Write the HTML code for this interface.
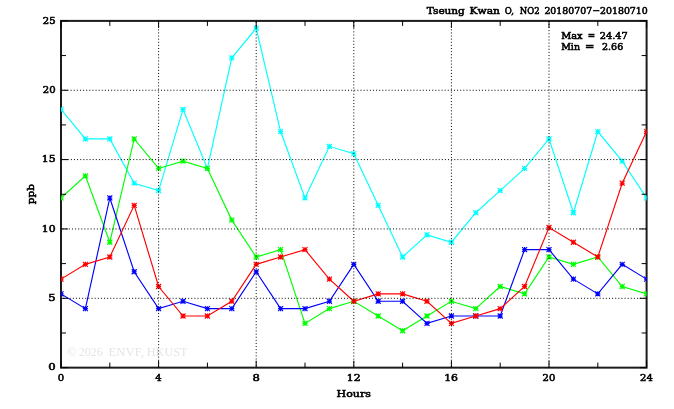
<!DOCTYPE html><html><head><meta charset="utf-8"><title>Tseung Kwan O, NO2</title><style>html,body{margin:0;padding:0;background:#fff;overflow:hidden}svg{display:block;will-change:transform}</style></head><body>
<svg width="674" height="409" viewBox="0 0 674 409">
<rect width="674" height="409" fill="#fff"/>
<rect x="61.0" y="20.9" width="585.60" height="346.75" stroke="#1c1c1c" stroke-width="2" fill="none"/>
<defs><clipPath id="pc"><rect x="61.0" y="20.9" width="585.60" height="346.75"/></clipPath></defs><g clip-path="url(#pc)" fill="none">
<polyline points="61.00,109.43 85.40,138.94 109.80,138.94 134.20,183.21 158.60,190.59 183.00,109.43 207.40,168.45 231.80,57.79 256.20,28.28 280.60,131.56 305.00,197.96 329.40,146.32 353.80,153.70 378.20,205.34 402.60,256.99 427.00,234.85 451.40,242.23 475.80,212.72 500.20,190.59 524.60,168.45 549.00,138.94 573.40,212.72 597.80,131.56 622.20,161.08 646.60,197.96" stroke="#00ffff" stroke-width="1.15"/>
<path d="M58.50 109.43h5.0M61.00 106.93v5.0M58.50 106.93l5.0 5.0M58.50 111.93l5.0 -5.0M82.90 138.94h5.0M85.40 136.44v5.0M82.90 136.44l5.0 5.0M82.90 141.44l5.0 -5.0M107.30 138.94h5.0M109.80 136.44v5.0M107.30 136.44l5.0 5.0M107.30 141.44l5.0 -5.0M131.70 183.21h5.0M134.20 180.71v5.0M131.70 180.71l5.0 5.0M131.70 185.71l5.0 -5.0M156.10 190.59h5.0M158.60 188.09v5.0M156.10 188.09l5.0 5.0M156.10 193.09l5.0 -5.0M180.50 109.43h5.0M183.00 106.93v5.0M180.50 106.93l5.0 5.0M180.50 111.93l5.0 -5.0M204.90 168.45h5.0M207.40 165.95v5.0M204.90 165.95l5.0 5.0M204.90 170.95l5.0 -5.0M229.30 57.79h5.0M231.80 55.29v5.0M229.30 55.29l5.0 5.0M229.30 60.29l5.0 -5.0M253.70 28.28h5.0M256.20 25.78v5.0M253.70 25.78l5.0 5.0M253.70 30.78l5.0 -5.0M278.10 131.56h5.0M280.60 129.06v5.0M278.10 129.06l5.0 5.0M278.10 134.06l5.0 -5.0M302.50 197.96h5.0M305.00 195.46v5.0M302.50 195.46l5.0 5.0M302.50 200.46l5.0 -5.0M326.90 146.32h5.0M329.40 143.82v5.0M326.90 143.82l5.0 5.0M326.90 148.82l5.0 -5.0M351.30 153.70h5.0M353.80 151.20v5.0M351.30 151.20l5.0 5.0M351.30 156.20l5.0 -5.0M375.70 205.34h5.0M378.20 202.84v5.0M375.70 202.84l5.0 5.0M375.70 207.84l5.0 -5.0M400.10 256.99h5.0M402.60 254.49v5.0M400.10 254.49l5.0 5.0M400.10 259.49l5.0 -5.0M424.50 234.85h5.0M427.00 232.35v5.0M424.50 232.35l5.0 5.0M424.50 237.35l5.0 -5.0M448.90 242.23h5.0M451.40 239.73v5.0M448.90 239.73l5.0 5.0M448.90 244.73l5.0 -5.0M473.30 212.72h5.0M475.80 210.22v5.0M473.30 210.22l5.0 5.0M473.30 215.22l5.0 -5.0M497.70 190.59h5.0M500.20 188.09v5.0M497.70 188.09l5.0 5.0M497.70 193.09l5.0 -5.0M522.10 168.45h5.0M524.60 165.95v5.0M522.10 165.95l5.0 5.0M522.10 170.95l5.0 -5.0M546.50 138.94h5.0M549.00 136.44v5.0M546.50 136.44l5.0 5.0M546.50 141.44l5.0 -5.0M570.90 212.72h5.0M573.40 210.22v5.0M570.90 210.22l5.0 5.0M570.90 215.22l5.0 -5.0M595.30 131.56h5.0M597.80 129.06v5.0M595.30 129.06l5.0 5.0M595.30 134.06l5.0 -5.0M619.70 161.08h5.0M622.20 158.58v5.0M619.70 158.58l5.0 5.0M619.70 163.58l5.0 -5.0M644.10 197.96h5.0M646.60 195.46v5.0M644.10 195.46l5.0 5.0M644.10 200.46l5.0 -5.0" stroke="#00ffff" stroke-width="1.15"/>
<polyline points="61.00,197.96 85.40,175.83 109.80,242.23 134.20,138.94 158.60,168.45 183.00,161.08 207.40,168.45 231.80,220.10 256.20,256.99 280.60,249.61 305.00,323.38 329.40,308.63 353.80,301.25 378.20,316.01 402.60,330.76 427.00,316.01 451.40,301.25 475.80,308.63 500.20,286.50 524.60,293.87 549.00,256.99 573.40,264.36 597.80,256.99 622.20,286.50 646.60,293.87" stroke="#00ff00" stroke-width="1.15"/>
<path d="M58.50 197.96h5.0M61.00 195.46v5.0M58.50 195.46l5.0 5.0M58.50 200.46l5.0 -5.0M82.90 175.83h5.0M85.40 173.33v5.0M82.90 173.33l5.0 5.0M82.90 178.33l5.0 -5.0M107.30 242.23h5.0M109.80 239.73v5.0M107.30 239.73l5.0 5.0M107.30 244.73l5.0 -5.0M131.70 138.94h5.0M134.20 136.44v5.0M131.70 136.44l5.0 5.0M131.70 141.44l5.0 -5.0M156.10 168.45h5.0M158.60 165.95v5.0M156.10 165.95l5.0 5.0M156.10 170.95l5.0 -5.0M180.50 161.08h5.0M183.00 158.58v5.0M180.50 158.58l5.0 5.0M180.50 163.58l5.0 -5.0M204.90 168.45h5.0M207.40 165.95v5.0M204.90 165.95l5.0 5.0M204.90 170.95l5.0 -5.0M229.30 220.10h5.0M231.80 217.60v5.0M229.30 217.60l5.0 5.0M229.30 222.60l5.0 -5.0M253.70 256.99h5.0M256.20 254.49v5.0M253.70 254.49l5.0 5.0M253.70 259.49l5.0 -5.0M278.10 249.61h5.0M280.60 247.11v5.0M278.10 247.11l5.0 5.0M278.10 252.11l5.0 -5.0M302.50 323.38h5.0M305.00 320.88v5.0M302.50 320.88l5.0 5.0M302.50 325.88l5.0 -5.0M326.90 308.63h5.0M329.40 306.13v5.0M326.90 306.13l5.0 5.0M326.90 311.13l5.0 -5.0M351.30 301.25h5.0M353.80 298.75v5.0M351.30 298.75l5.0 5.0M351.30 303.75l5.0 -5.0M375.70 316.01h5.0M378.20 313.51v5.0M375.70 313.51l5.0 5.0M375.70 318.51l5.0 -5.0M400.10 330.76h5.0M402.60 328.26v5.0M400.10 328.26l5.0 5.0M400.10 333.26l5.0 -5.0M424.50 316.01h5.0M427.00 313.51v5.0M424.50 313.51l5.0 5.0M424.50 318.51l5.0 -5.0M448.90 301.25h5.0M451.40 298.75v5.0M448.90 298.75l5.0 5.0M448.90 303.75l5.0 -5.0M473.30 308.63h5.0M475.80 306.13v5.0M473.30 306.13l5.0 5.0M473.30 311.13l5.0 -5.0M497.70 286.50h5.0M500.20 284.00v5.0M497.70 284.00l5.0 5.0M497.70 289.00l5.0 -5.0M522.10 293.87h5.0M524.60 291.37v5.0M522.10 291.37l5.0 5.0M522.10 296.37l5.0 -5.0M546.50 256.99h5.0M549.00 254.49v5.0M546.50 254.49l5.0 5.0M546.50 259.49l5.0 -5.0M570.90 264.36h5.0M573.40 261.86v5.0M570.90 261.86l5.0 5.0M570.90 266.86l5.0 -5.0M595.30 256.99h5.0M597.80 254.49v5.0M595.30 254.49l5.0 5.0M595.30 259.49l5.0 -5.0M619.70 286.50h5.0M622.20 284.00v5.0M619.70 284.00l5.0 5.0M619.70 289.00l5.0 -5.0M644.10 293.87h5.0M646.60 291.37v5.0M644.10 291.37l5.0 5.0M644.10 296.37l5.0 -5.0" stroke="#00ff00" stroke-width="1.15"/>
<polyline points="61.00,293.87 85.40,308.63 109.80,197.96 134.20,271.74 158.60,308.63 183.00,301.25 207.40,308.63 231.80,308.63 256.20,271.74 280.60,308.63 305.00,308.63 329.40,301.25 353.80,264.36 378.20,301.25 402.60,301.25 427.00,323.38 451.40,316.01 475.80,316.01 500.20,316.01 524.60,249.61 549.00,249.61 573.40,279.12 597.80,293.87 622.20,264.36 646.60,279.12" stroke="#0000ff" stroke-width="1.15"/>
<path d="M58.50 293.87h5.0M61.00 291.37v5.0M58.50 291.37l5.0 5.0M58.50 296.37l5.0 -5.0M82.90 308.63h5.0M85.40 306.13v5.0M82.90 306.13l5.0 5.0M82.90 311.13l5.0 -5.0M107.30 197.96h5.0M109.80 195.46v5.0M107.30 195.46l5.0 5.0M107.30 200.46l5.0 -5.0M131.70 271.74h5.0M134.20 269.24v5.0M131.70 269.24l5.0 5.0M131.70 274.24l5.0 -5.0M156.10 308.63h5.0M158.60 306.13v5.0M156.10 306.13l5.0 5.0M156.10 311.13l5.0 -5.0M180.50 301.25h5.0M183.00 298.75v5.0M180.50 298.75l5.0 5.0M180.50 303.75l5.0 -5.0M204.90 308.63h5.0M207.40 306.13v5.0M204.90 306.13l5.0 5.0M204.90 311.13l5.0 -5.0M229.30 308.63h5.0M231.80 306.13v5.0M229.30 306.13l5.0 5.0M229.30 311.13l5.0 -5.0M253.70 271.74h5.0M256.20 269.24v5.0M253.70 269.24l5.0 5.0M253.70 274.24l5.0 -5.0M278.10 308.63h5.0M280.60 306.13v5.0M278.10 306.13l5.0 5.0M278.10 311.13l5.0 -5.0M302.50 308.63h5.0M305.00 306.13v5.0M302.50 306.13l5.0 5.0M302.50 311.13l5.0 -5.0M326.90 301.25h5.0M329.40 298.75v5.0M326.90 298.75l5.0 5.0M326.90 303.75l5.0 -5.0M351.30 264.36h5.0M353.80 261.86v5.0M351.30 261.86l5.0 5.0M351.30 266.86l5.0 -5.0M375.70 301.25h5.0M378.20 298.75v5.0M375.70 298.75l5.0 5.0M375.70 303.75l5.0 -5.0M400.10 301.25h5.0M402.60 298.75v5.0M400.10 298.75l5.0 5.0M400.10 303.75l5.0 -5.0M424.50 323.38h5.0M427.00 320.88v5.0M424.50 320.88l5.0 5.0M424.50 325.88l5.0 -5.0M448.90 316.01h5.0M451.40 313.51v5.0M448.90 313.51l5.0 5.0M448.90 318.51l5.0 -5.0M473.30 316.01h5.0M475.80 313.51v5.0M473.30 313.51l5.0 5.0M473.30 318.51l5.0 -5.0M497.70 316.01h5.0M500.20 313.51v5.0M497.70 313.51l5.0 5.0M497.70 318.51l5.0 -5.0M522.10 249.61h5.0M524.60 247.11v5.0M522.10 247.11l5.0 5.0M522.10 252.11l5.0 -5.0M546.50 249.61h5.0M549.00 247.11v5.0M546.50 247.11l5.0 5.0M546.50 252.11l5.0 -5.0M570.90 279.12h5.0M573.40 276.62v5.0M570.90 276.62l5.0 5.0M570.90 281.62l5.0 -5.0M595.30 293.87h5.0M597.80 291.37v5.0M595.30 291.37l5.0 5.0M595.30 296.37l5.0 -5.0M619.70 264.36h5.0M622.20 261.86v5.0M619.70 261.86l5.0 5.0M619.70 266.86l5.0 -5.0M644.10 279.12h5.0M646.60 276.62v5.0M644.10 276.62l5.0 5.0M644.10 281.62l5.0 -5.0" stroke="#0000ff" stroke-width="1.15"/>
<polyline points="61.00,279.12 85.40,264.36 109.80,256.99 134.20,205.34 158.60,286.50 183.00,316.01 207.40,316.01 231.80,301.25 256.20,264.36 280.60,256.99 305.00,249.61 329.40,279.12 353.80,301.25 378.20,293.87 402.60,293.87 427.00,301.25 451.40,323.38 475.80,316.01 500.20,308.63 524.60,286.50 549.00,227.47 573.40,242.23 597.80,256.99 622.20,183.21 646.60,131.56" stroke="#ff0000" stroke-width="1.15"/>
<path d="M58.50 279.12h5.0M61.00 276.62v5.0M58.50 276.62l5.0 5.0M58.50 281.62l5.0 -5.0M82.90 264.36h5.0M85.40 261.86v5.0M82.90 261.86l5.0 5.0M82.90 266.86l5.0 -5.0M107.30 256.99h5.0M109.80 254.49v5.0M107.30 254.49l5.0 5.0M107.30 259.49l5.0 -5.0M131.70 205.34h5.0M134.20 202.84v5.0M131.70 202.84l5.0 5.0M131.70 207.84l5.0 -5.0M156.10 286.50h5.0M158.60 284.00v5.0M156.10 284.00l5.0 5.0M156.10 289.00l5.0 -5.0M180.50 316.01h5.0M183.00 313.51v5.0M180.50 313.51l5.0 5.0M180.50 318.51l5.0 -5.0M204.90 316.01h5.0M207.40 313.51v5.0M204.90 313.51l5.0 5.0M204.90 318.51l5.0 -5.0M229.30 301.25h5.0M231.80 298.75v5.0M229.30 298.75l5.0 5.0M229.30 303.75l5.0 -5.0M253.70 264.36h5.0M256.20 261.86v5.0M253.70 261.86l5.0 5.0M253.70 266.86l5.0 -5.0M278.10 256.99h5.0M280.60 254.49v5.0M278.10 254.49l5.0 5.0M278.10 259.49l5.0 -5.0M302.50 249.61h5.0M305.00 247.11v5.0M302.50 247.11l5.0 5.0M302.50 252.11l5.0 -5.0M326.90 279.12h5.0M329.40 276.62v5.0M326.90 276.62l5.0 5.0M326.90 281.62l5.0 -5.0M351.30 301.25h5.0M353.80 298.75v5.0M351.30 298.75l5.0 5.0M351.30 303.75l5.0 -5.0M375.70 293.87h5.0M378.20 291.37v5.0M375.70 291.37l5.0 5.0M375.70 296.37l5.0 -5.0M400.10 293.87h5.0M402.60 291.37v5.0M400.10 291.37l5.0 5.0M400.10 296.37l5.0 -5.0M424.50 301.25h5.0M427.00 298.75v5.0M424.50 298.75l5.0 5.0M424.50 303.75l5.0 -5.0M448.90 323.38h5.0M451.40 320.88v5.0M448.90 320.88l5.0 5.0M448.90 325.88l5.0 -5.0M473.30 316.01h5.0M475.80 313.51v5.0M473.30 313.51l5.0 5.0M473.30 318.51l5.0 -5.0M497.70 308.63h5.0M500.20 306.13v5.0M497.70 306.13l5.0 5.0M497.70 311.13l5.0 -5.0M522.10 286.50h5.0M524.60 284.00v5.0M522.10 284.00l5.0 5.0M522.10 289.00l5.0 -5.0M546.50 227.47h5.0M549.00 224.97v5.0M546.50 224.97l5.0 5.0M546.50 229.97l5.0 -5.0M570.90 242.23h5.0M573.40 239.73v5.0M570.90 239.73l5.0 5.0M570.90 244.73l5.0 -5.0M595.30 256.99h5.0M597.80 254.49v5.0M595.30 254.49l5.0 5.0M595.30 259.49l5.0 -5.0M619.70 183.21h5.0M622.20 180.71v5.0M619.70 180.71l5.0 5.0M619.70 185.71l5.0 -5.0M644.10 131.56h5.0M646.60 129.06v5.0M644.10 129.06l5.0 5.0M644.10 134.06l5.0 -5.0" stroke="#ff0000" stroke-width="1.15"/>
</g>
<path d="M61.00 298.30H646.60" stroke="#000" stroke-width="1" stroke-dasharray="1.0 2.117" stroke-dashoffset="0.621" fill="none"/>
<path d="M61.00 228.95H646.60" stroke="#000" stroke-width="1" stroke-dasharray="1.0 2.117" stroke-dashoffset="1.531" fill="none"/>
<path d="M61.00 159.60H646.60" stroke="#000" stroke-width="1" stroke-dasharray="1.0 2.117" stroke-dashoffset="2.578" fill="none"/>
<path d="M61.00 90.25H646.60" stroke="#000" stroke-width="1" stroke-dasharray="1.0 2.117" stroke-dashoffset="2.868" fill="none"/>
<path d="M158.60 20.90V367.65" stroke="#000" stroke-width="1" stroke-dasharray="1.0 2.117" stroke-dashoffset="0.931" fill="none"/>
<path d="M256.20 20.90V367.65" stroke="#000" stroke-width="1" stroke-dasharray="1.0 2.117" stroke-dashoffset="2.138" fill="none"/>
<path d="M353.80 20.90V367.65" stroke="#000" stroke-width="1" stroke-dasharray="1.0 2.117" stroke-dashoffset="1.988" fill="none"/>
<path d="M451.40 20.90V367.65" stroke="#000" stroke-width="1" stroke-dasharray="1.0 2.117" stroke-dashoffset="0.931" fill="none"/>
<path d="M549.00 20.90V367.65" stroke="#000" stroke-width="1" stroke-dasharray="1.0 2.117" stroke-dashoffset="0.111" fill="none"/>
<path d="M61.00 367.65v-7 M61.00 20.90v7 M109.80 367.65v-5 M109.80 20.90v5 M158.60 367.65v-7 M158.60 20.90v7 M207.40 367.65v-5 M207.40 20.90v5 M256.20 367.65v-7 M256.20 20.90v7 M305.00 367.65v-5 M305.00 20.90v5 M353.80 367.65v-7 M353.80 20.90v7 M402.60 367.65v-5 M402.60 20.90v5 M451.40 367.65v-7 M451.40 20.90v7 M500.20 367.65v-5 M500.20 20.90v5 M549.00 367.65v-7 M549.00 20.90v7 M597.80 367.65v-5 M597.80 20.90v5 M646.60 367.65v-7 M646.60 20.90v7 M61.00 367.65h7 M646.60 367.65h-7 M61.00 332.97h5 M646.60 332.97h-5 M61.00 298.30h7 M646.60 298.30h-7 M61.00 263.62h5 M646.60 263.62h-5 M61.00 228.95h7 M646.60 228.95h-7 M61.00 194.27h5 M646.60 194.27h-5 M61.00 159.60h7 M646.60 159.60h-7 M61.00 124.92h5 M646.60 124.92h-5 M61.00 90.25h7 M646.60 90.25h-7 M61.00 55.57h5 M646.60 55.57h-5 M61.00 20.90h7 M646.60 20.90h-7" stroke="#000" stroke-width="1" fill="none"/>
<g font-family="'DejaVu Serif', serif" font-size="10.0" fill="#000" stroke="#000" stroke-width="0.6" xml:space="preserve">
<text x="426.80" y="13.50" textLength="38.00" lengthAdjust="spacingAndGlyphs">Tseung</text>
<text x="469.60" y="13.50" textLength="30.40" lengthAdjust="spacingAndGlyphs">Kwan</text>
<text x="504.80" y="13.50" textLength="9.20" lengthAdjust="spacingAndGlyphs">O,</text>
<text x="519.80" y="13.50" textLength="19.80" lengthAdjust="spacingAndGlyphs">NO2</text>
<text x="544.40" y="13.50" textLength="103.40" lengthAdjust="spacingAndGlyphs">20180707−20180710</text>
<text x="561.20" y="39.00" textLength="21.40" lengthAdjust="spacingAndGlyphs">Max</text>
<text x="587.80" y="39.00" textLength="7.40" lengthAdjust="spacingAndGlyphs">=</text>
<text x="599.80" y="39.00" textLength="28.00" lengthAdjust="spacingAndGlyphs">24.47</text>
<text x="561.20" y="50.00" textLength="18.80" lengthAdjust="spacingAndGlyphs">Min</text>
<text x="585.00" y="50.00" textLength="9.40" lengthAdjust="spacingAndGlyphs">=</text>
<text x="602.00" y="50.00" textLength="21.20" lengthAdjust="spacingAndGlyphs">2.66</text>
<text x="336.60" y="397.00" textLength="34.20" lengthAdjust="spacingAndGlyphs">Hours</text>
<text x="48.20" y="370.45" textLength="7.40" lengthAdjust="spacingAndGlyphs">0</text>
<text x="48.20" y="301.10" textLength="7.40" lengthAdjust="spacingAndGlyphs">5</text>
<text x="41.80" y="231.75" textLength="13.80" lengthAdjust="spacingAndGlyphs">10</text>
<text x="41.80" y="162.40" textLength="13.80" lengthAdjust="spacingAndGlyphs">15</text>
<text x="42.80" y="93.05" textLength="12.80" lengthAdjust="spacingAndGlyphs">20</text>
<text x="42.80" y="23.70" textLength="12.80" lengthAdjust="spacingAndGlyphs">25</text>
<text x="57.80" y="381.30" textLength="6.40" lengthAdjust="spacingAndGlyphs">0</text>
<text x="155.20" y="381.30" textLength="6.40" lengthAdjust="spacingAndGlyphs">4</text>
<text x="252.60" y="381.30" textLength="7.40" lengthAdjust="spacingAndGlyphs">8</text>
<text x="346.80" y="381.30" textLength="13.80" lengthAdjust="spacingAndGlyphs">12</text>
<text x="444.20" y="381.30" textLength="13.80" lengthAdjust="spacingAndGlyphs">16</text>
<text x="542.60" y="381.30" textLength="12.80" lengthAdjust="spacingAndGlyphs">20</text>
<text x="640.00" y="381.30" textLength="12.80" lengthAdjust="spacingAndGlyphs">24</text>
<text transform="translate(34.0 204.3) rotate(-90)" textLength="20.2" lengthAdjust="spacingAndGlyphs">ppb</text>
</g>
<g font-family="'Liberation Serif', serif" font-size="13.2" fill="#e5e5e5">
<text x="66.8" y="355.8">©</text>
<text x="78.80" y="355.8" textLength="23.80" lengthAdjust="spacingAndGlyphs">2026</text>
<text x="108.60" y="355.8" textLength="35.40" lengthAdjust="spacingAndGlyphs">ENVF,</text>
<text x="146.80" y="355.8" textLength="40.60" lengthAdjust="spacingAndGlyphs">HKUST</text>
</g>
</svg></body></html>
